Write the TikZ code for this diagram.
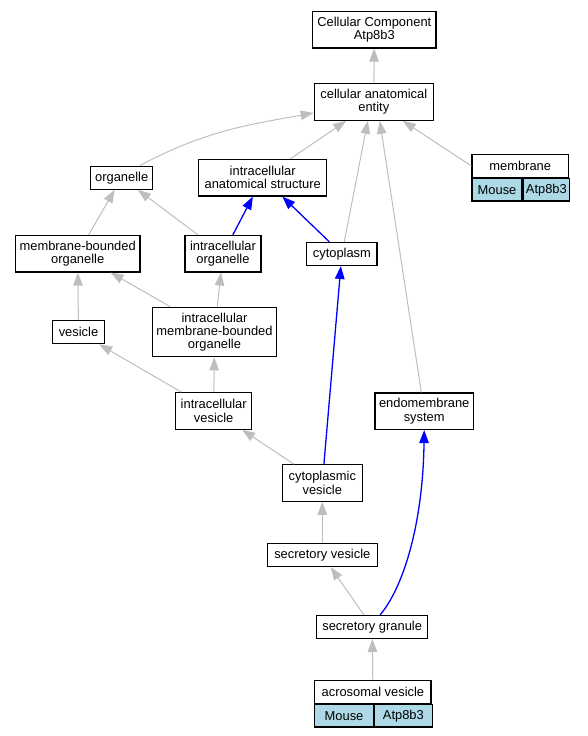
\documentclass[tikz,border=0pt]{standalone}
\usepackage{fontspec}
\setmainfont{Liberation Sans}
\usetikzlibrary{positioning, arrows.meta}
\definecolor{edgegray}{HTML}{BEBEBE}
\definecolor{cellblue}{HTML}{ADD8E6}

\begin{document}
\begin{tikzpicture}[x=1pt, y=-1pt,
  term/.style={draw=black, line width=1.2pt, rectangle, inner sep=0pt, align=center, font=\fontsize{12.9}{13.3}\selectfont},
  one/.style={term, minimum height=23pt},
  two/.style={term, minimum height=36.5pt},
  three/.style={term, minimum height=49.5pt},
  cell/.style={term, fill=cellblue, minimum height=22.3pt, anchor=north west},
  isa/.style={-{Triangle[length=13pt, width=9.5pt]}, draw=edgegray, line width=1pt},
  partof/.style={-{Triangle[length=13pt, width=9.5pt]}, draw=blue, line width=1.3pt}]
  \useasboundingbox (0,0) rectangle (588,736);

  \node[two, minimum width=123.3pt] (cc) at (374.3,29.7) {Cellular Component\\Atp8b3};
  \node[two, minimum width=119pt] (cae) at (373.8,102) {cellular anatomical\\entity};
  \node[one, minimum width=62pt] (org) at (121.7,177.7) {organelle};
  \node[two, minimum width=128pt] (ias) at (262.7,177.7) {intracellular\\anatomical structure};
  \node[one, minimum width=96.3pt] (mem) at (520.2,166) {membrane};
  \node[cell, minimum width=50pt] (memsp) at (mem.south west) {Mouse};
  \node[cell, minimum width=46.3pt] (memgn) at (memsp.north east) {Atp8b3};

  \node[two, minimum width=124.7pt] (mbo) at (77.7,253.7) {membrane-bounded\\organelle};
  \node[two, minimum width=76pt] (io) at (223,253.7) {intracellular\\organelle};
  \node[one, minimum width=70.3pt] (cyt) at (341.9,253.9) {cytoplasm};
  \node[one, minimum width=51.6pt] (ves) at (78.5,332.3) {vesicle};
  \node[three, minimum width=124.4pt] (imbo) at (214.5,332) {intracellular\\membrane-bounded\\organelle};
  \node[two, minimum width=76pt] (iv) at (213.7,410.9) {intracellular\\vesicle};
  \node[two, minimum width=98.3pt] (endo) at (424.2,411.2) {endomembrane\\system};
  \node[two, minimum width=80pt] (cv) at (322.3,483) {cytoplasmic\\vesicle};
  \node[one, minimum width=110pt] (sv) at (322.3,555) {secretory vesicle};
  \node[one, minimum width=111pt] (sg) at (372.2,626.9) {secretory granule};
  \node[one, minimum width=116.3pt] (av) at (372.9,692) {acrosomal vesicle};
  \node[cell, minimum width=58.6pt] (avsp) at (av.south west) {Mouse};
  \node[cell, minimum width=57.7pt] (avgn) at (avsp.north east) {Atp8b3};

  \draw[isa] (cae) -- (cc);
  \draw[isa] ([xshift=18pt]org.north) to[out=28, in=190] ([yshift=-11pt]cae.west);
  \draw[isa] (ias) -- (cae);
  \draw[isa] (cyt) -- ([xshift=-6pt]cae.south);
  \draw[isa] (endo) -- ([xshift=6pt]cae.south);
  \draw[isa] (mem.west) -- ([xshift=29pt]cae.south);
  \draw[isa] (mbo) -- (org);
  \draw[isa] (io) -- (org);
  \draw[partof] (io) -- (ias);
  \draw[partof] (cyt) -- (ias);
  \draw[isa] (ves) -- (mbo);
  \draw[isa] (imbo) -- (mbo);
  \draw[isa] (imbo) -- (io);
  \draw[isa] (iv) -- (ves);
  \draw[isa] (iv) -- (imbo);
  \draw[isa] (cv) -- (iv);
  \draw[partof] (cv) -- (cyt);
  \draw[isa] (sv) -- (cv);
  \draw[isa] (sg) -- (sv);
  \draw[partof] ([xshift=8pt]sg.north) .. controls (405,585) and (423,520) .. (endo.south);
  \draw[isa] (av) -- (sg);
\end{tikzpicture}
\end{document}
